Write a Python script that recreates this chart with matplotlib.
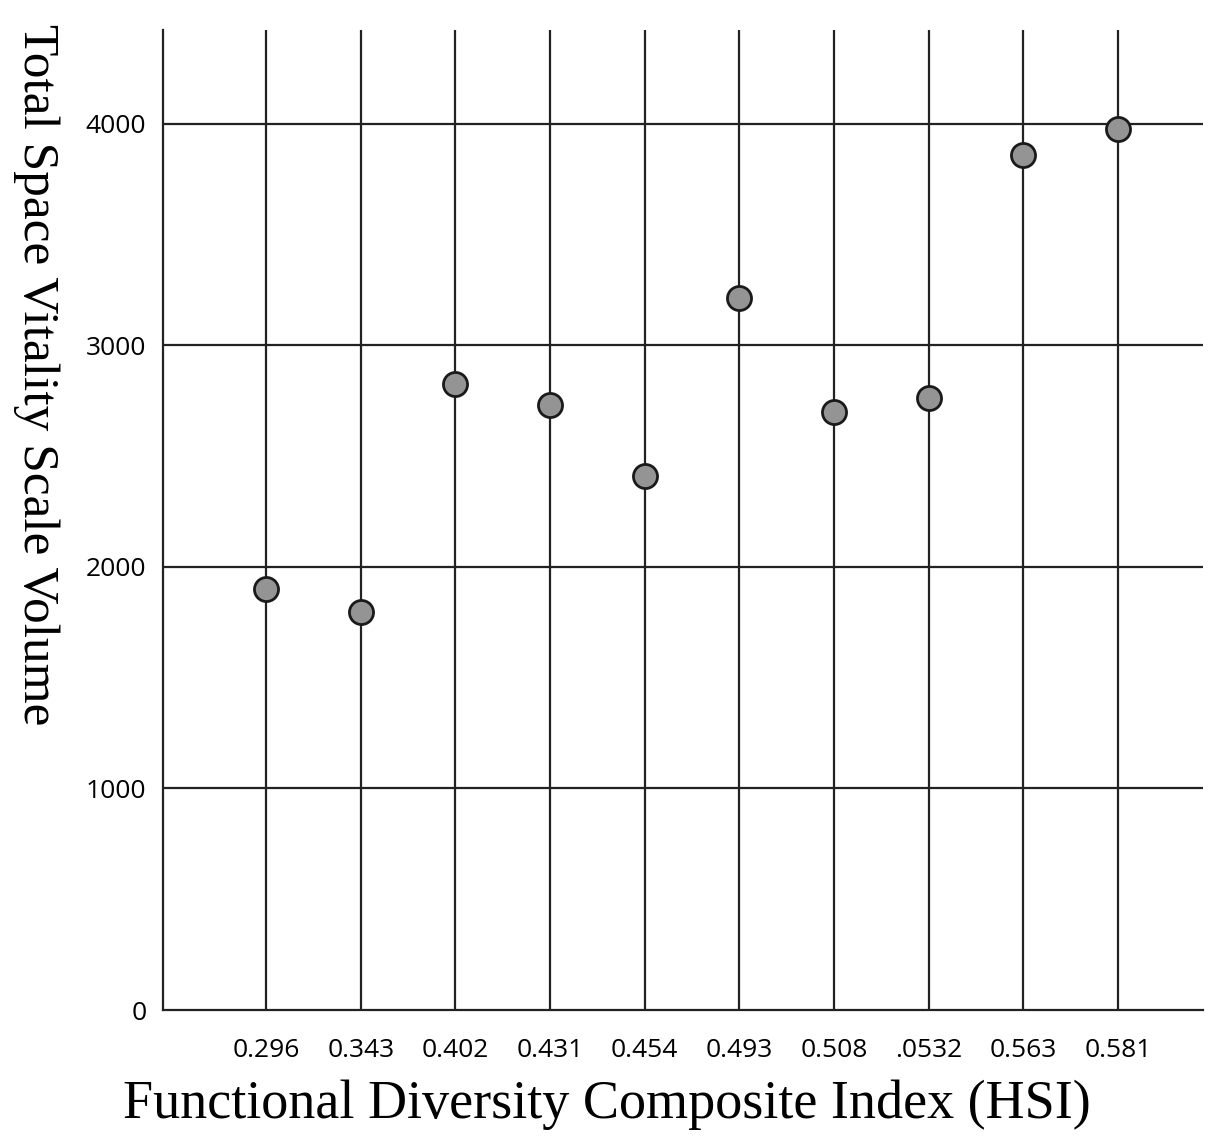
import matplotlib
matplotlib.use("Agg")
import matplotlib.pyplot as plt

categories = ["0.296", "0.343", "0.402", "0.431", "0.454", "0.493", "0.508", ".0532", "0.563", "0.581"]
values = [1901, 1797, 2826, 2731, 2411, 3214, 2700, 2763, 3860, 3977]
yticks = [0, 1000, 2000, 3000, 4000]

fig = plt.figure(figsize=(12.21, 11.45), dpi=100)
ax = fig.add_axes([163/1221, 1-1010/1145, (1203-163)/1221, (1010-30)/1145])
x = list(range(len(categories)))
ax.set_xlim(-1.09, 9.9)
ax.set_ylim(0, 4424)
for xi in x:
    ax.axvline(xi, color="#222222", lw=1.6, zorder=1)
for yt in yticks[1:]:
    ax.axhline(yt, color="#222222", lw=1.6, zorder=1)
ax.scatter(x, values, s=300, c="#949494", edgecolors="#1a1a1a", linewidths=2, zorder=3)
ax.set_xticks(x)
ax.set_xticklabels(categories, fontsize=19, family="Open Sans")
ax.set_yticks(yticks)
ax.set_yticklabels([str(v) for v in yticks], fontsize=19, family="Open Sans")
ax.tick_params(axis="both", length=0, pad=12)
ax.tick_params(axis="x", pad=20)
for s in ["top", "right"]:
    ax.spines[s].set_visible(False)
for s in ["left", "bottom"]:
    ax.spines[s].set_color("#222222")
    ax.spines[s].set_linewidth(1.6)
fig.text(607/1221, 1-1105/1145, "Functional Diversity Composite Index (HSI)", fontsize=39,
         family="Liberation Serif", ha="center", va="center")
fig.text(36/1221, 1-375/1145, "Total Space Vitality Scale Volume", rotation=270, fontsize=37,
         family="Liberation Serif", ha="center", va="center")
fig.savefig("out.png", dpi=100)
